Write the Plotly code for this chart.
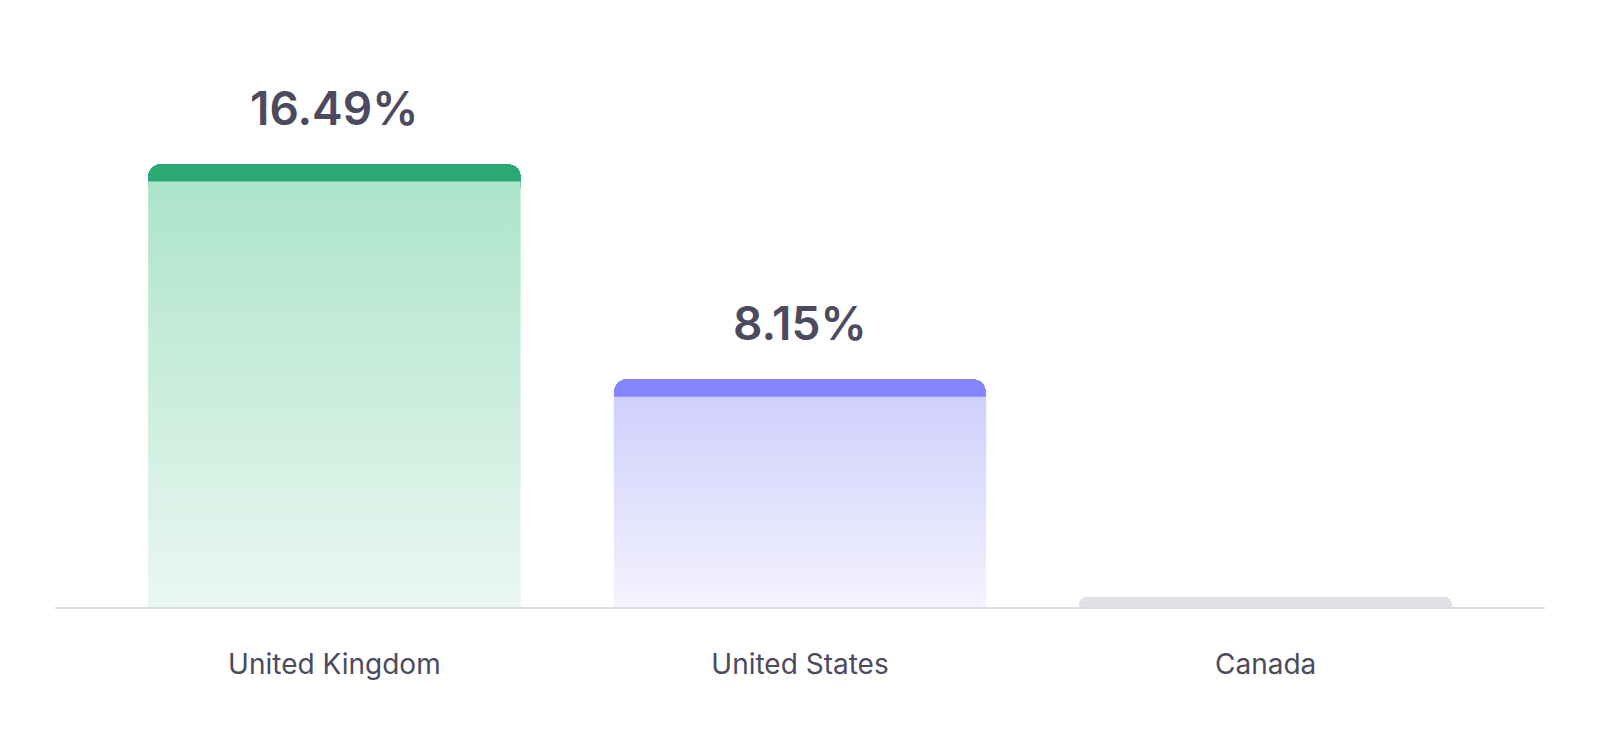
import plotly.graph_objects as go

countries = ["United Kingdom", "United States", "Canada"]
values = [16.49, 8.15, 0.0]
labels = ["16.49%", "8.15%", ""]

band_colors = ["#2aaa72", "#8585fd", "#e0e0e6"]
body_top = ["#ade4cb", "#cfcffc", "#e0e0e6"]
body_bottom = ["#eaf7f1", "#f4f3fe", "#e8e8ee"]
radii = [13, 13, 8]

BAR_W = 0.8
PX_PER_UNIT = 25.8
band_px = [18, 18, 10]
overlap_px = [16, 16, 16]
band = [p / PX_PER_UNIT for p in band_px]
overlap = [p / PX_PER_UNIT for p in overlap_px]
totals = [v + b for v, b in zip(values, band)]
band_base = [v - o for v, o in zip(values, overlap)]
band_len = [t - b for t, b in zip(totals, band_base)]

xs = list(range(len(countries)))
fig = go.Figure()

# top bands with rounded top corners (one trace per bar, overlaid)
for i in xs:
    fig.add_trace(go.Bar(
        x=[i], y=[band_len[i]], base=[band_base[i]], width=BAR_W,
        marker=dict(color=band_colors[i], cornerradius=radii[i], line=dict(width=0)),
        hoverinfo="skip", showlegend=False,
    ))

# gradient bodies
for i, v in enumerate(values):
    if v <= 0:
        continue
    x0, x1 = i - BAR_W / 2, i + BAR_W / 2
    fig.add_trace(go.Scatter(
        x=[x0, x1, x1, x0, x0], y=[0, 0, v, v, 0],
        mode="lines", fill="toself", line=dict(width=0),
        fillgradient=dict(type="vertical",
                          colorscale=[[0, body_bottom[i]], [1, body_top[i]]]),
        hoverinfo="skip", showlegend=False,
    ))

for i, (v, t) in enumerate(zip(values, labels)):
    if not t:
        continue
    fig.add_annotation(
        x=i, y=totals[i], text=t, showarrow=False,
        yanchor="bottom", yshift=26,
        font=dict(family="Inter", size=46, color="#4b4a5e", weight=600),
    )

fig.update_layout(
    width=1600, height=736,
    margin=dict(l=47, r=63, t=83, b=137),
    plot_bgcolor="white", paper_bgcolor="white",
    barmode="overlay", bargap=0,
    xaxis=dict(
        range=[-0.6, 2.6], tickvals=xs, ticktext=countries,
        showgrid=False, zeroline=False, showline=True,
        linecolor="#dcdbe8", linewidth=2, ticks="",
        ticklabelstandoff=31,
        tickfont=dict(family="Inter", size=28, color="#4b4a5e"),
        fixedrange=True,
    ),
    yaxis=dict(range=[0, 20], visible=False, fixedrange=True),
)

fig.write_html("out.html")
